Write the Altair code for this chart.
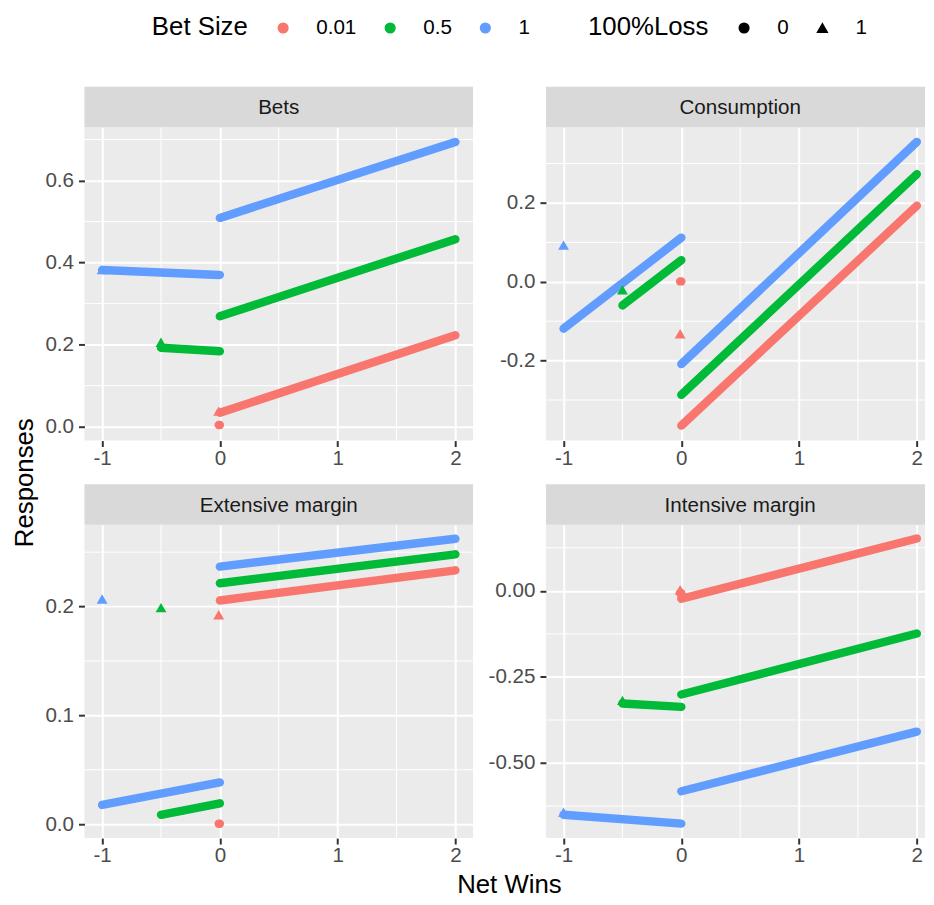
import altair as alt
import pandas as pd

FONT = "Liberation Sans"

panels = ["Bets", "Consumption", "Extensive margin", "Intensive margin"]
bet_labels = ["0.01", "0.5", "1"]
bet_sizes = [0.01, 0.5, 1.0]
bet_colors = ["#F8766D", "#00BA38", "#619CFF"]

# fitted response at Net Wins = -bet (start of the loss segment)
loss_start = {
    "Bets": [0.004, 0.1925, 0.382],
    "Consumption": [0.001, -0.060, -0.119],
    "Extensive margin": [0.0004, 0.0086, 0.0177],
    "Intensive margin": [-0.007, -0.327, -0.650],
}
# fitted response at Net Wins = 0 (end of the loss segment)
loss_end = {
    "Bets": [0.004, 0.184, 0.370],
    "Consumption": [0.001, 0.055, 0.112],
    "Extensive margin": [0.0004, 0.0192, 0.0384],
    "Intensive margin": [-0.007, -0.337, -0.676],
}
# fitted response at Net Wins = 0 (start of the win segment)
win_start = {
    "Bets": [0.034, 0.269, 0.509],
    "Consumption": [-0.365, -0.287, -0.209],
    "Extensive margin": [0.2056, 0.2214, 0.2367],
    "Intensive margin": [-0.023, -0.301, -0.582],
}
# fitted response at Net Wins = 2
win_end = {
    "Bets": [0.223, 0.457, 0.694],
    "Consumption": [0.193, 0.273, 0.355],
    "Extensive margin": [0.2333, 0.248, 0.2623],
    "Intensive margin": [0.152, -0.124, -0.409],
}
# 100% loss points (triangles) at Net Wins = -bet
full_loss = {
    "Bets": [0.038, 0.206, 0.383],
    "Consumption": [-0.132, -0.020, 0.093],
    "Extensive margin": [0.1925, 0.199, 0.207],
    "Intensive margin": [0.003, -0.318, -0.643],
}

x_ticks = [-1, 0, 1, 2]
x_minor = [-0.5, 0.5, 1.5]
y_ticks = {
    "Bets": [0.0, 0.2, 0.4, 0.6],
    "Consumption": [-0.2, 0.0, 0.2],
    "Extensive margin": [0.0, 0.1, 0.2],
    "Intensive margin": [-0.5, -0.25, 0.0],
}
y_minor = {
    "Bets": [0.1, 0.3, 0.5, 0.7],
    "Consumption": [-0.3, -0.1, 0.1, 0.3],
    "Extensive margin": [0.05, 0.15, 0.25],
    "Intensive margin": [-0.625, -0.375, -0.125, 0.125],
}
y_domain = {
    "Bets": [-0.0338, 0.7297],
    "Consumption": [-0.403, 0.392],
    "Extensive margin": [-0.0128, 0.2751],
    "Intensive margin": [-0.718, 0.1916],
}
y_digits = {"Bets": "1", "Consumption": "1", "Extensive margin": "1", "Intensive margin": "2"}

# ---- tables built from the arrays above ----
line_rows, point_rows = [], []
for p in panels:
    for i, b in enumerate(bet_labels):
        xb = -bet_sizes[i]
        line_rows += [
            dict(panel=p, bet=b, seg="loss", x=xb, y=loss_start[p][i]),
            dict(panel=p, bet=b, seg="loss", x=0.0, y=loss_end[p][i]),
            dict(panel=p, bet=b, seg="win", x=0.0, y=win_start[p][i]),
            dict(panel=p, bet=b, seg="win", x=2.0, y=win_end[p][i]),
        ]
        point_rows.append(dict(panel=p, bet=b, loss="1", x=xb, y=full_loss[p][i]))
lines_df = pd.DataFrame(line_rows)
points_df = pd.DataFrame(point_rows)

color_scale = alt.Scale(domain=bet_labels, range=bet_colors)
shape_scale = alt.Scale(domain=["0", "1"], range=["circle", "triangle-up"])

LEG_Y = -111
color_legend = alt.Legend(
    title="Bet Size", orient="none", legendX=68, legendY=LEG_Y,
    direction="horizontal", titleOrient="left", symbolType="circle",
    symbolSize=95, labelOffset=23, columnPadding=23, titlePadding=25,
    titleAnchor="middle", titleBaseline="middle",
)
shape_legend = alt.Legend(
    title="100%Loss", orient="none", legendX=508, legendY=LEG_Y,
    direction="horizontal", titleOrient="left", symbolSize=95,
    labelOffset=23, columnPadding=23, titlePadding=25,
    symbolFillColor="black", symbolStrokeColor="black",
    titleAnchor="middle", titleBaseline="middle",
)

H = 316
FULL_W = 392
RIGHT_W = 382.5
PX_PER_UNIT = FULL_W / 3.3


def panel(name, width, ytitle=False, xtitle=False):
    xmax = -1.15 + width / PX_PER_UNIT
    xs = alt.Scale(domain=[-1.15, xmax], nice=False, zero=False)
    ys = alt.Scale(domain=y_domain[name], nice=False, zero=False)
    xlab = "(datum.value < 0 ? '-' : '') + format(abs(datum.value), 'd')"
    ylab = "(datum.value < -1e-9 ? '-' : '') + format(abs(datum.value), '.%sf')" % y_digits[name]
    xaxis = alt.Axis(values=x_ticks, labelExpr=xlab, title=None)
    if ytitle:
        yaxis = alt.Axis(values=y_ticks[name], labelExpr=ylab, title="Responses",
                         titleX=-52, titleY=358, titleAngle=270,
                         titleBaseline="alphabetic", titleAlign="center",
                         titleFontSize=26, titleColor="black", titleFont=FONT,
                         titleFontWeight="normal")
    else:
        yaxis = alt.Axis(values=y_ticks[name], labelExpr=ylab, title=None)

    strip = alt.Chart(pd.DataFrame({"p": [name]})).mark_rect(color="#D9D9D9").encode(
        x=alt.value(0), x2=alt.value(width), y=alt.value(-41), y2=alt.value(0)
    )
    strip_text = alt.Chart(pd.DataFrame({"p": [name]})).mark_text(
        font=FONT, fontSize=20.8, color="#1A1A1A", align="center", baseline="alphabetic"
    ).encode(x=alt.value(FULL_W / 2), y=alt.value(-13), text=alt.Text("p:N"))

    minor_x = alt.Chart(pd.DataFrame({"x": x_minor})).mark_rule(
        color="white", strokeWidth=1
    ).encode(x=alt.X("x:Q", scale=xs, axis=xaxis))
    minor_y = alt.Chart(pd.DataFrame({"y": y_minor[name]})).mark_rule(
        color="white", strokeWidth=1
    ).encode(y=alt.Y("y:Q", scale=ys, axis=yaxis))

    lines = alt.Chart(lines_df[lines_df.panel == name]).mark_line(
        strokeWidth=8.5, strokeCap="round"
    ).encode(
        x=alt.X("x:Q", scale=xs, axis=xaxis),
        y=alt.Y("y:Q", scale=ys, axis=yaxis),
        color=alt.Color("bet:N", scale=color_scale, legend=color_legend),
        detail="seg:N",
    )
    pts = alt.Chart(points_df[points_df.panel == name]).mark_point(
        filled=True, size=120, opacity=1
    ).encode(
        x=alt.X("x:Q", scale=xs, axis=xaxis),
        y=alt.Y("y:Q", scale=ys, axis=yaxis),
        color=alt.Color("bet:N", scale=color_scale, legend=color_legend),
        shape=alt.Shape("loss:N", scale=shape_scale, legend=shape_legend),
    )
    layers = [strip, strip_text, minor_x, minor_y, lines, pts]
    if xtitle:
        layers.append(
            alt.Chart(pd.DataFrame({"t": ["Net Wins"]})).mark_text(
                font=FONT, fontSize=26, color="black", align="center",
                baseline="alphabetic"
            ).encode(x=alt.value(428.7), y=alt.value(H + 55), text=alt.Text("t:N"))
        )
    return alt.layer(*layers).properties(width=width, height=H)


chart = alt.concat(
    panel("Bets", FULL_W, ytitle=True),
    panel("Consumption", RIGHT_W),
    panel("Extensive margin", FULL_W, xtitle=True),
    panel("Intensive margin", RIGHT_W),
    columns=2,
    spacing={"row": 85, "column": 73.5},
    bounds="flush",
).resolve_scale(
    x="independent", y="independent", color="shared", shape="shared"
).properties(
    padding={"left": 12.2, "top": 13.5, "right": 0, "bottom": 0}
).configure_view(
    fill="#EBEBEB", stroke=None
).configure_axis(
    labelFont=FONT, labelFontSize=20.8, labelColor="#4D4D4D",
    tickColor="#333333", tickSize=6, tickWidth=2, domain=False,
    grid=True, gridColor="white", gridWidth=2,
).configure_axisX(
    labelPadding=2
).configure_axisY(
    labelPadding=5
).configure_legend(
    padding=0, labelFont=FONT, labelFontSize=20.8, labelColor="black",
    titleFont=FONT, titleFontSize=26, titleColor="black", titleFontWeight="normal",
)

chart.save("out.html", embed_options={"renderer": "svg", "actions": False})
